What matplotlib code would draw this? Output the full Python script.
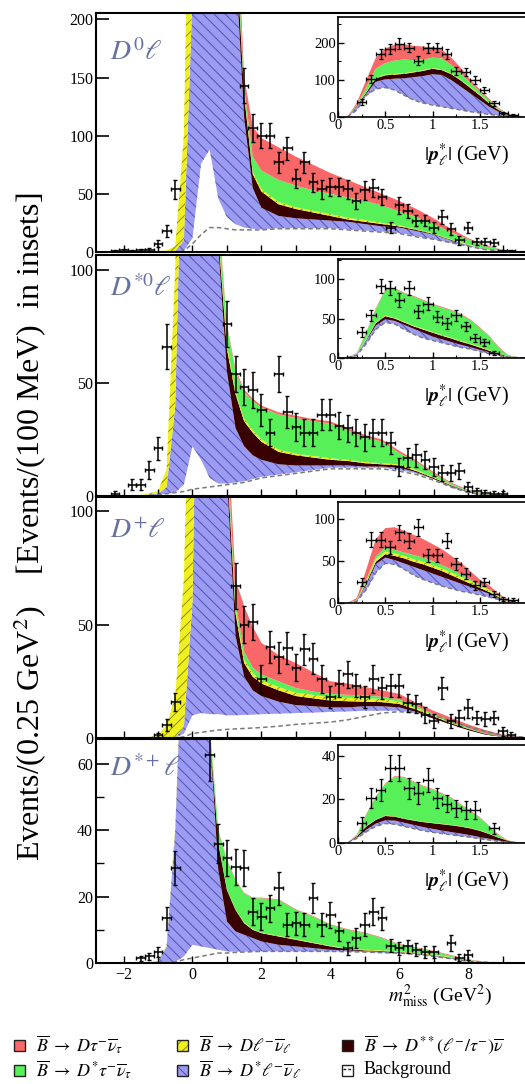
import numpy as np
import matplotlib
matplotlib.use('Agg')
import matplotlib.pyplot as plt
from matplotlib.patches import Rectangle
from matplotlib.lines import Line2D

plt.rcParams['font.family'] = ['Liberation Serif', 'DejaVu Serif']
plt.rcParams['mathtext.fontset'] = 'stix'
plt.rcParams['hatch.linewidth'] = 0.7

W, H = 525, 1084

# ---- main panels: m2miss grid, stacked fit components (cumulative tops) ----
m2_grid = [-2.8, -2.0, -1.5, -1.0, -0.75, -0.5, -0.25, 0.0, 0.25, 0.5, 0.75, 1.0, 1.25, 1.5, 1.75,
           2.0, 2.5, 3.0, 3.5, 4.0, 4.5, 5.0, 5.5, 6.0, 6.5, 7.0, 7.5, 8.0, 8.5, 9.0, 9.5, 10.0]

# D0 l
d0_bg = [0, 0, 0, 0, 0, 0, 1, 7, 15, 21, 21, 20, 19, 19, 19, 19, 20, 20, 20, 20, 19, 18, 17, 16, 13, 11, 8, 5, 2, 1, 0.3, 0]
d0_low = [0, 0, 0, 0, 0, 0, 1, 12, 76, 88, 46, 30, 24, 21, 20, 19.5, 20.5, 20.5, 20.5, 20.5, 19.5, 18.5, 17.5, 16.5, 13.5, 11, 8, 5, 2, 1, 0.3, 0]
d0_dsl = [0, 0, 0, 0, 0, 1, 10, 220, 900, 900, 700, 420, 250, 115, 55, 38, 31, 29, 28, 27, 26, 24, 22, 21, 18, 15, 10, 6, 2.5, 1, 0.3, 0]
d0_dss = [0, 0, 0, 0, 0, 1, 10, 220, 900, 900, 700, 430, 270, 135, 67, 52, 41, 37, 34, 31, 28, 26, 24, 22, 19, 15.5, 10.5, 6, 2.5, 1, 0.3, 0]
d0_dl = [0, 0, 0.2, 0.6, 1.5, 5, 100, 500, 1000, 1000, 720, 435, 275, 137, 69, 54, 43, 38.5, 35.5, 32.5, 29.5, 27.5, 25, 23, 19.5, 16, 11, 6.5, 2.7, 1.1, 0.3, 0]
d0_dstau = [0, 0, 0.2, 0.6, 1.5, 5, 100, 500, 1000, 1000, 730, 445, 290, 142, 82, 70, 62, 57, 53, 50, 47, 44, 40, 35, 30, 24, 17, 11, 5, 2, 0.5, 0]
d0_dtau = [0, 0, 0.2, 0.6, 1.5, 5, 100, 500, 1000, 1000, 740, 460, 320, 150, 108, 98, 90, 82, 75, 68, 62, 56, 50, 44, 37, 29, 20, 12, 6, 2, 0.5, 0]

# D*0 l
ds0_bg = [0, 0, 0, 0.5, 1, 1.5, 2, 3, 3.5, 4, 4.5, 5, 5.5, 6, 7, 8, 9, 10, 11, 12, 12, 12, 12, 11, 9.5, 7, 4, 1.5, 0.5, 0, 0, 0]
ds0_low = [0, 0, 0, 0.5, 1, 1.5, 5, 22, 16, 8, 5.5, 5.5, 6, 6.5, 7.5, 8.5, 9.5, 10.5, 11.5, 12.5, 12.5, 12.5, 12.5, 11.5, 10, 7.5, 4, 1.5, 0.5, 0, 0, 0]
ds0_dsl = [0, 0, 0.3, 1, 4, 40, 200, 400, 350, 250, 110, 55, 30, 22, 18, 16, 14, 13.5, 13.5, 13.5, 13.5, 13, 13, 12.5, 10.5, 7.5, 4.5, 1.8, 0.6, 0.1, 0, 0]
ds0_dss = [0, 0, 0.3, 1, 4, 40, 200, 400, 350, 250, 115, 65, 45, 33, 28, 24, 19.5, 18, 17, 16, 15.5, 14.5, 14, 13.5, 11, 8, 4.8, 2, 0.6, 0.1, 0, 0]
ds0_dl = [0, 0.1, 0.5, 2, 12, 100, 300, 450, 380, 260, 118, 67, 46, 34, 29, 25, 20.5, 18.7, 17.7, 16.7, 16, 15, 14.5, 14, 11.5, 8.3, 5, 2.1, 0.7, 0.1, 0, 0]
ds0_dstau = [0, 0.1, 0.5, 2, 12, 100, 300, 450, 380, 260, 125, 75, 55, 46, 42, 39, 36, 34.5, 33, 32, 29, 26, 24, 19, 15, 10, 5.5, 2.5, 0.8, 0.2, 0, 0]
ds0_dtau = [0, 0.1, 0.5, 2, 12, 100, 300, 450, 380, 260, 126, 76, 56, 47, 43, 40, 37, 35.5, 34, 33, 30, 27, 25, 20, 15.7, 10.6, 6, 2.8, 0.9, 0.2, 0, 0]

# D+ l
dp_bg = [0, 0, 0, 0, 0, 0, 0.5, 2, 2.5, 3, 3.5, 3.8, 4, 4.2, 4.4, 4.6, 5.2, 6, 6.5, 7, 8, 9.5, 11, 11.6, 11, 10, 7.5, 5, 3, 1.2, 0.5, 0]
dp_low = [0, 0, 0, 0, 0, 0, 2, 10, 11, 10.5, 10.5, 10, 10, 10.2, 10.3, 10.5, 10.7, 11, 11.2, 11.5, 11.7, 12, 12, 12, 11, 10, 7.5, 5, 3, 1.2, 0.5, 0]
dp_dsl = [0, 0, 0, 0, 0, 0, 5, 60, 300, 400, 300, 115, 45, 27, 21, 18.5, 16, 14.5, 14, 13.5, 13.5, 14, 14, 13.5, 11.5, 8.5, 6, 3.5, 1.5, 0.5, 0.2, 0]
dp_dss = [0, 0, 0, 0, 0, 0, 5, 60, 300, 400, 300, 122, 55, 33, 27, 24, 21, 18.5, 17.5, 16.5, 16.2, 16, 15.8, 15, 12.5, 9.5, 6.5, 4, 1.8, 0.6, 0.2, 0]
dp_dl = [0, 0, 0, 1, 6, 18, 70, 220, 400, 450, 320, 125, 57, 34.5, 28.5, 25.5, 22.5, 20, 19, 18, 17.7, 17.5, 17.2, 16, 13.2, 10, 7, 4.3, 2, 0.7, 0.2, 0]
dp_dstau = [0, 0, 0, 1, 6, 18, 70, 220, 400, 450, 330, 130, 60, 38, 31, 28, 25, 22, 20.5, 19.5, 19, 18.7, 18.2, 17, 14, 10.5, 7.5, 4.6, 2.2, 0.8, 0.2, 0]
dp_dtau = [0, 0, 0, 1, 6, 18, 70, 220, 400, 450, 350, 140, 70, 58, 49, 42, 36.5, 33, 29, 25, 24, 22.5, 21, 19.5, 15.5, 12, 9, 6, 3.5, 1.5, 0.5, 0]

# D*+ l
dsp_bg = [0, 0, 0, 0, 0, 0.3, 1, 1.5, 2, 2.5, 3, 3, 3.2, 3.3, 3.4, 3.5, 3.5, 3.5, 3.5, 3.5, 3.4, 3.3, 3.1, 3, 2.6, 2, 1.3, 0.5, 0.2, 0, 0, 0]
dsp_low = [0, 0, 0, 0, 0, 0.3, 2, 5.5, 5, 4.5, 4, 3.5, 3.4, 3.4, 3.5, 3.5, 3.5, 3.5, 3.5, 3.5, 3.4, 3.3, 3.1, 3, 2.6, 2, 1.3, 0.5, 0.2, 0, 0, 0]
dsp_dsl = [0, 0, 0, 0.5, 5, 40, 110, 170, 160, 70, 28, 12.5, 9.5, 8.5, 7.5, 6.5, 5.5, 5, 4.5, 4, 3.8, 3.6, 3.4, 3.2, 2.8, 2.2, 1.5, 0.6, 0.2, 0, 0, 0]
dsp_dss = [0, 0, 0, 0.5, 5, 40, 110, 170, 160, 70, 36, 22, 16, 12, 10, 9, 8, 7, 6, 5, 4.2, 3.8, 3.6, 3.3, 2.9, 2.3, 1.6, 0.7, 0.2, 0, 0, 0]
dsp_dl = [0, 0, 0, 0.6, 5.3, 41, 111, 171, 161, 71, 36.2, 22.2, 16.2, 12.2, 10.2, 9.2, 8.2, 7.2, 6.2, 5.2, 4.4, 4, 3.8, 3.5, 3.1, 2.5, 1.8, 0.8, 0.3, 0, 0, 0]
dsp_dstau = [0, 0, 0, 0.6, 5.3, 41, 111, 171, 161, 72, 40, 31, 25, 21, 19.5, 19.5, 19, 16, 14, 11.5, 10, 9, 7.5, 5.5, 4.5, 3.5, 2.2, 1, 0.3, 0, 0, 0]
dsp_dtau = [0, 0, 0, 0.6, 5.3, 41, 111, 171, 161, 72, 40.2, 31.2, 25.2, 21.2, 19.7, 19.7, 19.2, 16.2, 14.2, 11.7, 10.2, 9.2, 7.7, 5.7, 4.7, 3.7, 2.4, 1.1, 0.4, 0, 0, 0]

# ---- main panels: data points ----
d0_x = [-2.25, -2.0, -1.75, -1.5, -1.25, -1.0, -0.75, -0.5, 1.5, 1.75, 2.0, 2.25, 2.5, 2.75, 3.0, 3.25, 3.5, 3.75,
        4.0, 4.25, 4.5, 4.75, 5.0, 5.25, 5.5, 5.75, 6.0, 6.25, 6.5, 6.75, 7.0, 7.25, 7.5, 7.75, 8.0, 8.25, 8.5, 8.75, 9.0, 9.25]
d0_y = [1, 1.5, 1, 1.5, 2, 7, 18, 54, 143, 107, 100, 100, 77, 89, 63, 77, 60, 54, 56, 56, 54, 44, 53, 55, 47, 21,
        40, 35, 27, 27, 21, 30, 20, 10, 21, 9, 9, 8, 1, 1]
d0_err = [1, 1.2, 1, 1.2, 1.5, 3, 5, 8, 15, 12, 11, 11, 9, 10, 8, 9, 8, 8, 8, 8, 8, 7, 8, 8, 7, 5, 7, 6, 5, 5, 5, 6, 5,
          4, 5, 3, 3, 3, 1, 1]

ds0_x = [-2.25, -1.75, -1.5, -1.25, -1.0, -0.75, 1.0, 1.25, 1.5, 1.75, 2.0, 2.25, 2.5, 2.75, 3.0, 3.25, 3.5, 3.75, 4.0,
         4.25, 4.5, 4.75, 5.0, 5.25, 5.5, 5.75, 6.0, 6.25, 6.5, 6.75, 7.0, 7.25, 7.5, 7.75, 8.0, 8.25, 8.5, 8.75, 9.0]
ds0_y = [1, 5, 5, 11.5, 21, 66, 76, 54, 48, 47, 38, 28, 54, 37, 30.5, 28, 28, 36, 36, 31, 30, 28, 26, 28, 28, 23.5,
         13, 17, 18, 16, 13, 10, 10, 11, 4, 2, 1.5, 1, 1]
ds0_err = [1, 2.5, 2.5, 4, 5, 10, 10, 8, 8, 8, 7, 6, 8, 7, 6, 6, 6, 7, 7, 6, 6, 6, 6, 6, 6, 5, 4, 4, 5, 4, 4, 3.5, 3.5,
           3.5, 2, 1.5, 1, 1, 1]

dp_x = [-1.0, -0.75, -0.5, 1.25, 1.5, 1.75, 2.0, 2.25, 2.5, 2.75, 3.0, 3.25, 3.5, 3.75, 4.0, 4.25, 4.5, 4.75, 5.0,
        5.25, 5.5, 5.75, 6.0, 6.25, 6.5, 6.75, 7.0, 7.25, 7.5, 7.75, 8.0, 8.25, 8.5, 8.75, 9.0, 9.25]
dp_y = [1.3, 5.7, 16, 67, 50, 51, 26, 40, 35.5, 39.5, 31, 39, 35, 26, 18, 24, 28, 23, 18, 26, 22, 23, 23, 15.5, 15,
        10, 7.5, 22, 7.5, 9, 13, 9, 8.5, 9, 3, 1.5]
dp_err = [1, 2.5, 4, 10, 8, 8, 6, 7, 7, 7, 6, 7, 7, 6, 5, 6, 6, 5, 5, 6, 5, 5, 5, 4, 4, 3.5, 3, 5, 3, 3.5, 4, 3, 3, 3,
          2, 1]

dsp_x = [-1.5, -1.25, -1.0, -0.75, -0.5, 0.5, 0.75, 1.0, 1.25, 1.5, 1.75, 2.0, 2.25, 2.5, 2.75, 3.0, 3.25, 3.5, 3.75,
         4.0, 4.25, 4.5, 4.75, 5.0, 5.25, 5.5, 5.75, 6.0, 6.25, 6.5, 6.75, 7.0, 7.5, 7.75, 8.0]
dsp_y = [1.4, 2, 3.4, 13.5, 28.6, 62.8, 36, 31.6, 29, 28.6, 15.5, 14, 16.5, 22.5, 11.5, 12, 11.5, 19.5, 11.5, 14.5,
         9.5, 4.4, 7.5, 11.5, 15.5, 13.5, 5.2, 4.4, 5, 4, 3.4, 3.4, 6, 1.6, 2.4]
dsp_err = [0.8, 1, 1.5, 3.5, 5, 8, 6, 5.5, 5.5, 5.5, 4, 4, 4, 5, 3.5, 3.5, 3.5, 4.5, 3.5, 4, 3, 2, 3, 3.5, 4, 3.5, 2,
           2, 2, 2, 1.8, 1.8, 2.5, 1, 1.5]

# ---- insets: |p*_l| grid, stacked fit components (cumulative tops) ----
p_grid = [0.1, 0.2, 0.3, 0.4, 0.5, 0.6, 0.7, 0.8, 0.9, 1.0, 1.1, 1.2, 1.3, 1.4, 1.5, 1.6, 1.7, 1.8, 1.9, 2.0]

i_d0_bg = [0, 18, 58, 75, 79, 72, 58, 45, 37, 31.5, 27, 22.5, 18, 13.5, 10, 6, 3, 1, 0.3, 0]
i_d0_dsl = [0, 28, 62, 95, 101, 103, 104, 107, 110, 115, 113, 99, 81, 63, 45, 27, 13.5, 4.5, 1, 0]
i_d0_dss = [0, 30, 66, 104, 112, 114, 116, 120, 124, 130, 126, 115, 98, 78, 58, 36, 18, 6, 1.2, 0]
i_d0_dl = [0, 31, 68, 106, 114, 116, 118, 122, 126, 132, 128, 117, 100, 80, 60, 38, 19, 6.5, 1.3, 0]
i_d0_dstau = [0, 33, 80, 130, 145, 152, 155, 153, 155, 160, 158, 140, 118, 92, 68, 44, 22, 7, 1.5, 0]
i_d0_dtau = [0, 38, 100, 160, 185, 195, 196, 192, 190, 188, 182, 160, 132, 100, 74, 48, 24, 8, 2, 0]

i_ds0_bg = [0, 3, 18, 36, 45, 43, 36, 30, 25, 22, 19, 16, 13, 11, 8, 5, 2.5, 0.8, 0.2, 0]
i_ds0_dsl = [0, 5, 22, 41, 49, 47, 42, 37, 32, 27, 23.5, 20, 16.5, 13.5, 10, 7, 3.5, 1, 0.2, 0]
i_ds0_dss = [0, 5, 23, 44, 53, 50, 45, 40, 36, 32, 28, 24.5, 20.5, 17, 13, 9, 5, 1.5, 0.3, 0]
i_ds0_dl = [0, 5.5, 24, 45, 54, 51, 46, 41, 37, 33, 29, 25.5, 21.5, 18, 14, 9.8, 5.6, 1.8, 0.4, 0]
i_ds0_dstau = [0, 6, 32, 62, 86, 88, 82, 78, 73, 68, 64, 60, 55, 48, 38, 27, 13, 3, 0.5, 0]
i_ds0_dtau = [0, 6.5, 33, 63, 87, 89, 83, 79, 74, 69, 65, 61, 56, 49, 39, 28, 14, 3.5, 0.6, 0]

i_dp_bg = [0, 2, 16, 36, 47, 46, 40, 33, 28, 24, 20, 17, 14, 12, 9.5, 7, 4, 1.5, 0.3, 0]
i_dp_dsl = [0, 3, 22, 46, 54, 51, 47, 43, 39, 35, 31, 27, 23, 19, 15, 11, 6, 2, 0.5, 0]
i_dp_dss = [0, 3, 24, 49, 58, 56, 53, 49, 46, 42, 38, 33, 28, 23, 18, 13, 7, 2.5, 0.6, 0]
i_dp_dl = [0, 3.5, 26, 52, 61, 59, 56, 52, 49, 45, 41, 36, 31, 26, 21, 15, 8, 3, 0.7, 0]
i_dp_dstau = [0, 4, 28, 55, 66, 63, 60, 57, 54, 50, 45, 40, 34, 28, 22, 16, 9, 3.5, 0.8, 0]
i_dp_dtau = [0, 6, 40, 76, 89, 90, 86, 81, 76, 70, 64, 56, 48, 38, 28, 21, 11, 4, 1, 0]

i_dsp_bg = [0, 2, 5, 7.5, 8.8, 8.5, 7.5, 6.5, 5.5, 4.8, 4.2, 3.6, 3.0, 2.5, 1.8, 1.2, 0.6, 0.2, 0, 0]
i_dsp_dsl = [0, 2.5, 6, 8.8, 10.3, 10.2, 9.2, 8.2, 7.2, 6.4, 5.6, 4.9, 4.2, 3.5, 2.6, 1.8, 1, 0.4, 0, 0]
i_dsp_dss = [0, 3, 7.5, 10.5, 12.3, 12, 11, 10.2, 9.5, 9, 8.5, 8, 7.4, 6.6, 5.5, 4, 2.3, 0.9, 0.2, 0]
i_dsp_dl = [0, 3.2, 7.7, 10.7, 12.5, 12.2, 11.2, 10.4, 9.7, 9.2, 8.7, 8.2, 7.6, 6.8, 5.7, 4.2, 2.4, 1, 0.2, 0]
i_dsp_dstau = [0, 3.5, 13, 21, 27, 30.5, 30, 28, 26, 24.5, 22.5, 20.5, 17.5, 14.5, 11.5, 7.5, 3.5, 0.8, 0.1, 0]
i_dsp_dtau = [0, 3.8, 13.3, 21.3, 27.3, 30.8, 30.3, 28.3, 26.3, 24.8, 22.8, 20.8, 17.8, 14.8, 11.8, 7.8, 3.8, 1, 0.1, 0]

# ---- insets: data points ----
i_d0_x = [0.25, 0.35, 0.45, 0.55, 0.65, 0.75, 0.85, 0.95, 1.05, 1.15, 1.25, 1.35, 1.45, 1.55, 1.65, 1.75, 1.85]
i_d0_y = [40, 102, 169, 183, 198, 187, 152, 186, 187, 170, 124, 122, 99, 72, 36, 9, 4.5]
i_d0_err = [7, 10, 13, 13, 14, 13, 12, 13, 13, 13, 11, 11, 10, 8, 6, 3, 2]

i_ds0_x = [0.15, 0.25, 0.35, 0.45, 0.55, 0.65, 0.75, 0.85, 0.95, 1.05, 1.15, 1.25, 1.35, 1.45, 1.55, 1.65]
i_ds0_y = [0.5, 33, 54, 91, 88.5, 74, 88.5, 59, 69, 52, 44, 54, 40, 25, 20, 5.5]
i_ds0_err = [1, 6, 7, 9, 9, 9, 9, 8, 8, 7, 7, 7, 6, 5, 4.5, 2.5]

i_dp_x = [0.25, 0.35, 0.45, 0.55, 0.65, 0.75, 0.85, 0.95, 1.05, 1.15, 1.25, 1.35, 1.45, 1.55, 1.65, 1.75, 1.85]
i_dp_y = [25, 75, 75, 66, 84, 74, 90, 56.5, 56.5, 74, 46.6, 35, 21, 25, 11, 5, 4]
i_dp_err = [5, 9, 9, 8, 9, 9, 10, 8, 8, 9, 7, 6, 5, 5, 3.5, 2.5, 2]

i_dsp_x = [0.25, 0.35, 0.45, 0.55, 0.65, 0.75, 0.85, 0.95, 1.05, 1.15, 1.25, 1.35, 1.45, 1.65]
i_dsp_y = [9, 20.5, 24.3, 34.3, 34.3, 25, 22.8, 29, 20.5, 18, 15.8, 15, 15, 6.6]
i_dsp_err = [3, 4.5, 5, 6, 6, 5, 5, 5.5, 4.5, 4, 4, 4, 4, 2.5]

panel_labels = [r'$D^{0}\ell$', r'$D^{*0}\ell$', r'$D^{+}\ell$', r'$D^{*+}\ell$']
legend_labels = [r'$\overline{B}\;\rightarrow\;D\tau^{-}\overline{\nu}_{\tau}$',
                 r'$\overline{B}\;\rightarrow\;D\ell^{-}\overline{\nu}_{\ell}$',
                 r'$\overline{B}\;\rightarrow\;D^{**}(\ell^{-}/\tau^{-})\overline{\nu}$',
                 r'$\overline{B}\;\rightarrow\;D^{*}\tau^{-}\overline{\nu}_{\tau}$',
                 r'$\overline{B}\;\rightarrow\;D^{*}\ell^{-}\overline{\nu}_{\ell}$',
                 'Background']

RED = '#f86868'
GREEN = '#58f058'
BLUE = '#9b9bf2'
BLUE_H = '#5052b8'
YELLOW = '#f0f020'
YELLOW_H = '#8c8c00'
BROWN = '#380000'
BG_LINE = '#7a7a7a'
LABEL_C = '#6872a2'


def box(left, top, right, bottom):
    return [left / W, 1 - bottom / H, (right - left) / W, (bottom - top) / H]


def draw_stack(ax, x, bg, low, dsl, dss, dl, dstau, dtau, lw=1.1):
    ax.fill_between(x, low, dsl, facecolor=BLUE, edgecolor=BLUE_H, hatch='\\\\\\', linewidth=0)
    ax.fill_between(x, dsl, dss, facecolor=BROWN, linewidth=0)
    ax.fill_between(x, dss, dl, facecolor=YELLOW, edgecolor=YELLOW_H, hatch='///', linewidth=0)
    ax.fill_between(x, dl, dstau, facecolor=GREEN, linewidth=0)
    ax.fill_between(x, dstau, dtau, facecolor=RED, linewidth=0)
    ax.plot(x, bg, ls=(0, (3, 2)), color=BG_LINE, lw=lw)


fig = plt.figure(figsize=(W / 100, H / 100), dpi=100)

main_boxes = [(96, 13, 537, 252), (96, 255, 537, 496), (96, 497, 537, 738), (96, 739, 537, 963)]
main_ylims = [205.5, 106.5, 106.2, 67.5]
main_yticks = [[0, 50, 100, 150, 200], [0, 50, 100], [0, 50, 100], [0, 20, 40, 60]]
main_minor = [[], [], [], [10, 30, 50]]
label_y = [0.833, 0.859, 0.859, 0.866]
stacks = [(d0_bg, d0_low, d0_dsl, d0_dss, d0_dl, d0_dstau, d0_dtau),
          (ds0_bg, ds0_low, ds0_dsl, ds0_dss, ds0_dl, ds0_dstau, ds0_dtau),
          (dp_bg, dp_low, dp_dsl, dp_dss, dp_dl, dp_dstau, dp_dtau),
          (dsp_bg, dsp_low, dsp_dsl, dsp_dss, dsp_dl, dsp_dstau, dsp_dtau)]
points = [(d0_x, d0_y, d0_err), (ds0_x, ds0_y, ds0_err), (dp_x, dp_y, dp_err), (dsp_x, dsp_y, dsp_err)]

for i in range(4):
    ax = fig.add_axes(box(*main_boxes[i]))
    draw_stack(ax, m2_grid, *stacks[i])
    px, py, pe = points[i]
    ax.errorbar(px, py, yerr=pe, xerr=0.125, fmt='none', ecolor='black', elinewidth=1.1, capsize=1.6,
                capthick=1.0, zorder=5)
    ax.set_xlim(-2.8, 10)
    ax.set_ylim(0, main_ylims[i])
    ax.set_yticks(main_yticks[i])
    ax.set_yticks(main_minor[i], minor=True)
    ax.set_xticks([-2, 0, 2, 4, 6, 8])
    ax.set_xticks([-1, 1, 3, 5, 7, 9], minor=True)
    ax.tick_params(axis='y', which='major', direction='in', length=9.5, width=1.2, labelsize=11.5, pad=2)
    ax.tick_params(axis='y', which='minor', direction='in', length=6, width=1.0)
    ax.tick_params(axis='x', which='both', direction='in', length=5, width=1.0, labelsize=11.5, pad=3)
    if i < 3:
        ax.tick_params(axis='x', labelbottom=False)
    for s in ax.spines.values():
        s.set_linewidth(1.5)
    ax.text(0.031, label_y[i], panel_labels[i], transform=ax.transAxes, fontsize=20, color=LABEL_C,
            ha='left', va='center')

inset_boxes = [(338, 17, 527, 116.7), (338, 259, 527, 357.7), (338, 502, 527, 603), (338, 745, 527, 842.7)]
inset_ylims = [270, 126, 120, 45]
inset_yticks = [[0, 100, 200], [0, 50, 100], [0, 50, 100], [0, 20, 40]]
inset_minor = [[50, 150, 250], [25, 75, 125], [25, 75], [10, 30]]
inset_stacks = [(i_d0_bg, i_d0_bg, i_d0_dsl, i_d0_dss, i_d0_dl, i_d0_dstau, i_d0_dtau),
                (i_ds0_bg, i_ds0_bg, i_ds0_dsl, i_ds0_dss, i_ds0_dl, i_ds0_dstau, i_ds0_dtau),
                (i_dp_bg, i_dp_bg, i_dp_dsl, i_dp_dss, i_dp_dl, i_dp_dstau, i_dp_dtau),
                (i_dsp_bg, i_dsp_bg, i_dsp_dsl, i_dsp_dss, i_dsp_dl, i_dsp_dstau, i_dsp_dtau)]
inset_points = [(i_d0_x, i_d0_y, i_d0_err), (i_ds0_x, i_ds0_y, i_ds0_err),
                (i_dp_x, i_dp_y, i_dp_err), (i_dsp_x, i_dsp_y, i_dsp_err)]

for i in range(4):
    ax = fig.add_axes(box(*inset_boxes[i]))
    draw_stack(ax, p_grid, *inset_stacks[i], lw=1.0)
    px, py, pe = inset_points[i]
    ax.errorbar(px, py, yerr=pe, xerr=0.05, fmt='none', ecolor='black', elinewidth=1.0, capsize=1.4,
                capthick=0.9, zorder=5)
    ax.set_xlim(0, 2.0)
    ax.set_ylim(0, inset_ylims[i])
    ax.set_yticks(inset_yticks[i])
    ax.set_yticks(inset_minor[i], minor=True)
    ax.set_xticks([0, 0.5, 1, 1.5])
    ax.set_xticklabels(['0', '0.5', '1', '1.5'])
    ax.set_xticks([0.25, 0.75, 1.25, 1.75], minor=True)
    ax.tick_params(which='major', direction='in', length=4, width=1.0, labelsize=10.5, pad=1.5)
    ax.tick_params(which='minor', direction='in', length=2.5, width=0.8)
    for s in ax.spines.values():
        s.set_linewidth(1.2)
    ax.text(0.68, -0.39, r'$|\mathbfit{p}^{*}_{\ell}|$ (GeV)', transform=ax.transAxes, fontsize=14.5,
            ha='center', va='center')

fig.text(30 / W, 1 - 527 / H, r'Events/(0.25 GeV$^2$)    [Events/(100 MeV)  in insets]', rotation=90,
         fontsize=23, ha='center', va='center')
fig.text(440 / W, 1 - 996 / H, r'$m^2_{\rm miss}$ (GeV$^2$)', fontsize=14, ha='center', va='center')

# legend
leg_x = [14, 177, 342]
leg_y = [1045, 1070]
leg_face = [RED, YELLOW, BROWN, GREEN, BLUE, 'white']
leg_hatch = [None, '///', None, None, '\\\\\\', None]
leg_hcol = [None, YELLOW_H, None, None, BLUE_H, None]
for k in range(6):
    cx = leg_x[k % 3]
    cy = leg_y[k // 3]
    r = Rectangle((cx / W, 1 - (cy + 5.5) / H), 11 / W, 11 / H, transform=fig.transFigure,
                  facecolor=leg_face[k], edgecolor=leg_hcol[k] if leg_hcol[k] else 'black',
                  hatch=leg_hatch[k], linewidth=0)
    fig.add_artist(r)
    fig.add_artist(Rectangle((cx / W, 1 - (cy + 5.5) / H), 11 / W, 11 / H, transform=fig.transFigure,
                             facecolor='none', edgecolor='#222222', linewidth=1.0))
    if k == 5:
        fig.add_artist(Line2D([(cx + 1) / W, (cx + 10) / W], [1 - (cy - 1.5) / H] * 2, transform=fig.transFigure,
                              color='#222222', lw=1.0, ls=(0, (2, 1.5))))
    fig.text((cx + 22) / W, 1 - cy / H, legend_labels[k], fontsize=13, ha='left', va='center')

fig.savefig('out.png', dpi=100)
